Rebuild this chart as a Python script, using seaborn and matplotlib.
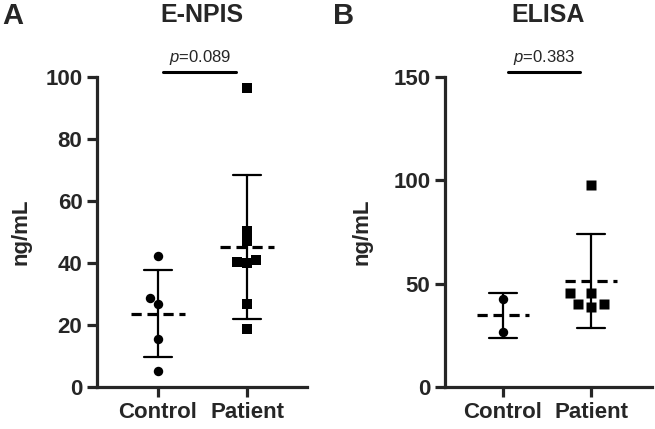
import pandas as pd
import matplotlib
matplotlib.use("Agg")
import matplotlib.pyplot as plt
import seaborn as sns

# values (ng/mL)
groups = ["Control", "Patient"]
enpis_control = [42.3, 26.7, 28.6, 15.6, 5.3]
enpis_patient = [96.3, 50.3, 47.2, 40.4, 41.0, 40.1, 26.7, 18.6]
elisa_control = [42.4, 26.8]
elisa_patient = [97.7, 45.3, 45.3, 38.9, 40.2, 40.2]
titles = ["E-NPIS", "ELISA"]
letters = ["A", "B"]
p_values = ["0.089", "0.383"]
y_max = [100, 150]
y_ticks = [[0, 20, 40, 60, 80, 100], [0, 50, 100, 150]]

sns.set_style("ticks")
plt.rcParams["font.family"] = ["Liberation Sans", "DejaVu Sans"]
plt.rcParams["mathtext.fontset"] = "custom"
plt.rcParams["mathtext.it"] = "Liberation Sans:italic"
plt.rcParams["mathtext.rm"] = "Liberation Sans"


def make_df(ctrl, pat):
    return pd.DataFrame({
        "group": ["Control"] * len(ctrl) + ["Patient"] * len(pat),
        "value": list(ctrl) + list(pat),
    })


datasets = [make_df(enpis_control, enpis_patient), make_df(elisa_control, elisa_patient)]

fig = plt.figure(figsize=(6.55, 4.29), dpi=100)
W, H = 655, 429
# axes boxes in pixels: left, right, and x limits
boxes = [(97, 307, -0.685, 1.674), (445, 652, -0.659, 1.693)]
top_px, bot_px = 77, 387
label_x = [-0.31, -0.35]
swarm_gap = [0.0, 2.4]  # invisible edge width, spreads the swarm a bit

for i, df in enumerate(datasets):
    l, r, x0, x1 = boxes[i]
    ax = fig.add_axes([l / W, 1 - bot_px / H, (r - l) / W, (bot_px - top_px) / H])

    for g, mk in zip(groups, ["o", "s"]):
        sub = df[df["group"] == g]
        sns.swarmplot(data=sub, x="group", y="value", order=groups, marker=mk,
                      color="black", size=6.8, linewidth=swarm_gap[i],
                      edgecolor=(1, 1, 1, 0), ax=ax)

    sns.pointplot(data=df, x="group", y="value", order=groups, errorbar="sd",
                  capsize=0.32, color="black", linestyle="none", marker="",
                  err_kws={"linewidth": 1.6}, ax=ax)

    means = df.groupby("group")["value"].mean().reindex(groups)
    for k, m in enumerate(means):
        ax.hlines(m, k - 0.3, k + 0.3, colors="black", linewidth=2.3,
                  linestyles=(0, (3.2, 1.8)), zorder=4)

    ax.set_xlim(x0, x1)
    ax.set_ylim(0, y_max[i])
    ax.set_yticks(y_ticks[i])
    ax.set_xlabel("")
    ax.set_ylabel("ng/mL", fontsize=16, fontweight="bold")
    ax.yaxis.set_label_coords(label_x[i], 0.5)
    sns.despine(ax=ax)
    for s in ["left", "bottom"]:
        ax.spines[s].set_linewidth(2.3)
    ax.tick_params(width=2.3, length=7.5, labelsize=16, pad=3)
    for lab in ax.get_xticklabels() + ax.get_yticklabels():
        lab.set_fontweight("bold")

    # significance bar
    ytop = y_max[i]
    ax.plot([0.06, 0.88], [ytop * 1.016, ytop * 1.016], color="black",
            linewidth=2.2, clip_on=False)
    ax.text(0.47, ytop * 1.062, "$p$=" + p_values[i], ha="center", va="center",
            fontsize=12, clip_on=False)

    cx = (l + r) / 2 / W
    fig.text(cx, 1 - 15 / H, titles[i], ha="center", va="center",
             fontsize=18, fontweight="bold")

fig.text(2 / W, 1 - 16 / H, letters[0], ha="left", va="center", fontsize=21, fontweight="bold")
fig.text(333 / W, 1 - 16 / H, letters[1], ha="left", va="center", fontsize=21, fontweight="bold")

fig.savefig("out.png", dpi=100)
